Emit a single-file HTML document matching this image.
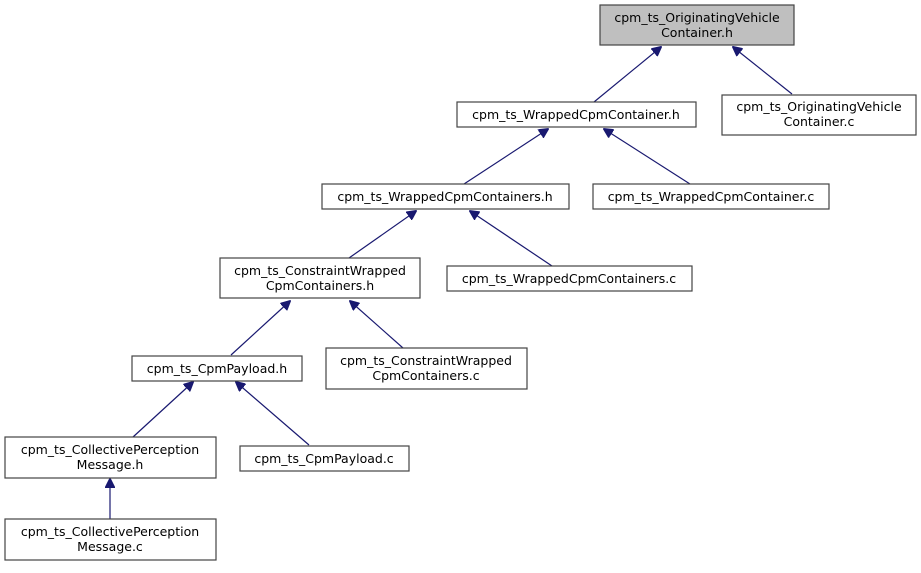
<!DOCTYPE html>
<html><head><meta charset="utf-8"><style>
html,body{margin:0;padding:0;background:#fff;width:921px;height:573px;overflow:hidden}
svg{display:block}
text{font-family:"DejaVu Sans","Liberation Sans",sans-serif;font-size:12.5px;fill:#000;text-anchor:middle}
rect{stroke:#444;stroke-width:1.2;fill:#fff}
line{stroke:#191970;stroke-width:1.2}
</style></head><body>
<svg width="921" height="573" viewBox="0 0 921 573" xmlns="http://www.w3.org/2000/svg">
<defs><marker id="a" markerWidth="10" markerHeight="10" refX="9" refY="5" orient="auto" markerUnits="userSpaceOnUse"><path d="M0,0 L10,5 L0,10 z" fill="#191970" stroke="#191970"/></marker></defs>
<line x1="594" y1="102" x2="661" y2="47" marker-end="url(#a)"/>
<line x1="792" y1="94" x2="733" y2="47" marker-end="url(#a)"/>
<line x1="464" y1="184" x2="548" y2="129" marker-end="url(#a)"/>
<line x1="690" y1="184" x2="604" y2="129" marker-end="url(#a)"/>
<line x1="349" y1="258" x2="416" y2="211" marker-end="url(#a)"/>
<line x1="552" y1="266" x2="470" y2="211" marker-end="url(#a)"/>
<line x1="231" y1="355" x2="290" y2="301" marker-end="url(#a)"/>
<line x1="403" y1="348" x2="350" y2="301" marker-end="url(#a)"/>
<line x1="133" y1="437" x2="193" y2="382" marker-end="url(#a)"/>
<line x1="309" y1="445" x2="236" y2="382" marker-end="url(#a)"/>
<line x1="110" y1="519" x2="110" y2="479" marker-end="url(#a)"/>

<rect x="600" y="5" width="194" height="40" style="fill:#bfbfbf"/>
<text x="697" y="22">cpm_ts_OriginatingVehicle</text><text x="697" y="37">Container.h</text>
<rect x="457" y="102" width="239" height="25"/>
<text x="576" y="119">cpm_ts_WrappedCpmContainer.h</text>
<rect x="722" y="95" width="194" height="40"/>
<text x="819" y="111">cpm_ts_OriginatingVehicle</text><text x="819" y="126">Container.c</text>
<rect x="322" y="184" width="247" height="25"/>
<text x="445" y="201">cpm_ts_WrappedCpmContainers.h</text>
<rect x="593" y="184" width="236" height="25"/>
<text x="711" y="201">cpm_ts_WrappedCpmContainer.c</text>
<rect x="220" y="258" width="200" height="40"/>
<text x="320" y="275">cpm_ts_ConstraintWrapped</text><text x="320" y="290">CpmContainers.h</text>
<rect x="447" y="266" width="245" height="25"/>
<text x="569" y="283">cpm_ts_WrappedCpmContainers.c</text>
<rect x="132" y="356" width="170" height="25"/>
<text x="217" y="373">cpm_ts_CpmPayload.h</text>
<rect x="326" y="348" width="201" height="41"/>
<text x="426" y="365">cpm_ts_ConstraintWrapped</text><text x="426" y="380">CpmContainers.c</text>
<rect x="5" y="437" width="211" height="41"/>
<text x="110" y="454">cpm_ts_CollectivePerception</text><text x="110" y="469">Message.h</text>
<rect x="240" y="446" width="169" height="25"/>
<text x="324" y="463">cpm_ts_CpmPayload.c</text>
<rect x="5" y="519" width="211" height="41"/>
<text x="110" y="536">cpm_ts_CollectivePerception</text><text x="110" y="551">Message.c</text>
</svg>
</body></html>
